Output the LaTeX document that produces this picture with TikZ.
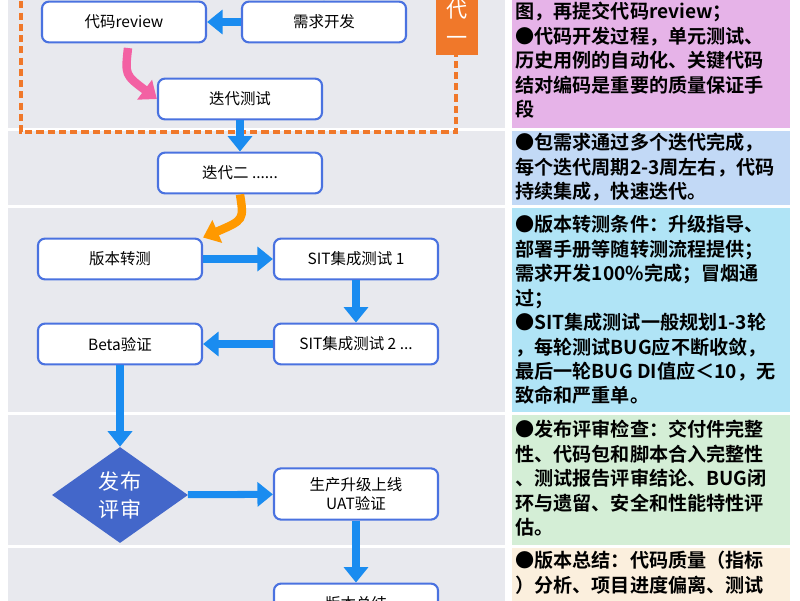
\documentclass[tikz,border=0pt]{standalone}
\usepackage{fontspec}
\setmainfont{Noto Sans CJK SC}
\newfontfamily\boldcjk{Noto Sans CJK SC Bold}
\usetikzlibrary{shapes.geometric,arrows.meta,positioning}
\definecolor{boxline}{HTML}{4A72E0}
\definecolor{flowblue}{HTML}{1A8CF0}
\definecolor{bandgray}{HTML}{E8E9EE}
\definecolor{notepink}{HTML}{E6B3E8}
\definecolor{noteblue}{HTML}{C2D9F6}
\definecolor{notecyan}{HTML}{B0E4F6}
\definecolor{notegreen}{HTML}{D4EED6}
\definecolor{notecream}{HTML}{FBEFDD}
\definecolor{iterorange}{HTML}{F0782A}
\tikzset{
  stage/.style={draw=boxline, line width=1.5pt, rounded corners=5pt, fill=white,
    minimum width=4.1cm, minimum height=1.02cm, font=\fontsize{11pt}{13pt}\selectfont, align=center},
  flow/.style={draw=flowblue, line width=5pt, -{Triangle[length=11pt,width=17pt]}},
  note/.style={anchor=north west, inner sep=0pt, align=left,
    font=\boldcjk\fontsize{13.6pt}{17.4pt}\selectfont}
}
\begin{document}
\begin{tikzpicture}[x=0.025cm, y=-0.025cm]
    \useasboundingbox (0,0) rectangle (800,600);
    \clip (0,0) rectangle (800,600);
    % bands
    \fill[bandgray] (8,-10) rectangle (505,128);
    \fill[bandgray] (8,131) rectangle (505,205);
    \fill[bandgray] (8,208) rectangle (505,412);
    \fill[bandgray] (8,415) rectangle (505,545);
    \fill[bandgray] (8,548) rectangle (505,610);
    \fill[notepink] (512,-10) rectangle (790,128);
    \fill[noteblue] (512,131) rectangle (790,205);
    \fill[notecyan] (512,208) rectangle (790,412);
    \fill[notegreen] (512,415) rectangle (790,545);
    \fill[notecream] (512,548) rectangle (790,610);
    % iteration one
    \draw[iterorange, line width=2.2pt, dash pattern=on 5pt off 3pt] (21,-10) rectangle (456,132);
    \node[fill=iterorange, text=white, minimum width=1.03cm, minimum height=1.6cm, inner sep=0pt,
          font=\fontsize{15pt}{20pt}\selectfont, align=center] (iter1) at (457,23) {代\\一};
    % stages
    \node[stage] (rev) at (124,22) {代码review};
    \node[stage] (dev) at (324,22) {需求开发};
    \node[stage] (itest) at (240,99) {迭代测试};
    \node[stage] (iter2) at (240,173) {迭代二 ......};
    \node[stage] (handover) at (120,259) {版本转测};
    \node[stage] (sit1) at (356,259) {SIT集成测试 1};
    \node[stage] (sit2) at (356,344) {SIT集成测试 2 ...};
    \node[stage] (beta) at (120,344) {Beta验证};
    \node[diamond, fill=boxline!90!black, text=white, minimum width=3.4cm, minimum height=2.4cm,
          inner sep=0pt, font=\fontsize{15pt}{20pt}\selectfont, align=center] (review) at (120,495) {发布\\评审};
    \node[stage, minimum height=1.28cm] (uat) at (356,494) {生产升级上线\\UAT验证};
    \node[stage] (summary) at (356,604) {版本总结};
    % connectors
    \coordinate (devin) at (324,-25);
    \draw[flow] (devin) -- (dev);
    \draw[flow] (dev) -- (rev);
    \draw[line width=6pt, draw=magenta!50!pink, -{Triangle[length=11pt,width=17pt]}]
      (128,48) .. controls (125,75) .. (itest.west);
    \draw[flow] (itest) -- (iter2);
    \draw[line width=6pt, draw=orange!80!yellow, -{Triangle[length=11pt,width=17pt]}]
      (iter2.south) .. controls (244,220) .. (handover.north east);
    \draw[flow] (handover) -- (sit1);
    \draw[flow] (sit1) -- (sit2);
    \draw[flow] (sit2) -- (beta);
    \draw[flow] (beta) -- (review);
    \draw[flow] (review) -- (uat);
    \draw[flow] (uat) -- (summary);
    % notes
    \node[note] (note1) at (515,2) {图，再提交代码review；\\●代码开发过程，单元测试、\\历史用例的自动化、关键代码\\结对编码是重要的质量保证手\\段};
    \node[note] (note2) at (515,133) {●包需求通过多个迭代完成，\\每个迭代周期2-3周左右，代码\\持续集成，快速迭代。};
    \node[note] (note3) at (515,215) {●版本转测条件：升级指导、\\部署手册等随转测流程提供；\\需求开发100\%完成；冒烟通\\过；\\●SIT集成测试一般规划1-3轮\\，每轮测试BUG应不断收敛，\\最后一轮BUG DI值应＜10，无\\致命和严重单。};
    \node[note] (note4) at (515,420) {●发布评审检查：交付件完整\\性、代码包和脚本合入完整性\\、测试报告评审结论、BUG闭\\环与遗留、安全和性能特性评\\估。};
    \node[note] (note5) at (515,551) {●版本总结：代码质量（指标\\）分析、项目进度偏离、测试};
\end{tikzpicture}
\end{document}
